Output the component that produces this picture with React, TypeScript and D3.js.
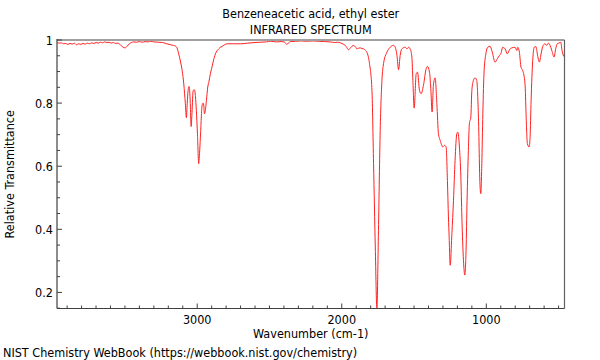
import React from "react";
import * as d3 from "d3";

const titleLines = ["Benzeneacetic acid, ethyl ester", "INFRARED SPECTRUM"];
const xLabel = "Wavenumber (cm-1)";
const yLabel = "Relative Transmittance";
const footer = "NIST Chemistry WebBook (https://webbook.nist.gov/chemistry)";

const xDomain = [3970, 459];
const yDomain = [0.149, 1.0];
const xMajorTicks = [3000, 2000, 1000];
const yMajorTicks = [0.2, 0.4, 0.6, 0.8, 1];

const wavenumbers = [
  3968, 3955, 3940, 3925, 3910, 3895, 3880, 3865, 3850, 3835, 3820, 3805, 3790, 3775, 3760, 3745,
  3730, 3715, 3700, 3685, 3670, 3655, 3640, 3625, 3610, 3595, 3580, 3565, 3550, 3530, 3515, 3500,
  3485, 3470, 3455, 3440, 3420, 3400, 3380, 3360, 3340, 3323, 3300, 3270, 3240, 3210, 3185, 3165,
  3151, 3140, 3128, 3115, 3104, 3093, 3082, 3075, 3069, 3063, 3056, 3051, 3047, 3042, 3036, 3028,
  3019, 3012, 3006, 2998, 2990, 2984, 2978, 2966, 2959, 2954, 2950, 2943, 2936, 2927, 2918, 2909,
  2900, 2890, 2874, 2851, 2820, 2793, 2750, 2701, 2650, 2600, 2563, 2520, 2494, 2450, 2420, 2395,
  2380, 2370, 2355, 2320, 2280, 2245, 2200, 2160, 2120, 2080, 2050, 2030, 2010, 1990, 1976, 1965,
  1953, 1940, 1918, 1905, 1895, 1884, 1872, 1860, 1849, 1836, 1826, 1808, 1791, 1780, 1768, 1757,
  1746, 1734, 1722, 1711, 1688, 1665, 1642, 1630, 1618, 1607, 1596, 1584, 1561, 1549, 1538, 1527,
  1515, 1508, 1499, 1485, 1476, 1462, 1451, 1435, 1416, 1407, 1393, 1384, 1375, 1366, 1354, 1342,
  1331, 1319, 1301, 1290, 1278, 1269, 1262, 1257, 1250, 1238, 1227, 1216, 1204, 1197, 1186, 1176,
  1169, 1158, 1149, 1140, 1133, 1124, 1117, 1107, 1100, 1089, 1077, 1066, 1055, 1043, 1038, 1031,
  1024, 1015, 1003, 990, 974, 962, 939, 923, 909, 900, 886, 870, 854, 840, 824, 801,
  789, 782, 771, 760, 748, 732, 725, 716, 704, 697, 690, 679, 668, 656, 647, 633,
  621, 610, 594, 582, 571, 559, 547, 531, 520, 509, 495, 485, 476, 462, 459,
];

const transmittance = [
  0.992, 0.990, 0.991, 0.988, 0.989, 0.986, 0.989, 0.987, 0.990, 0.985, 0.988, 0.986, 0.989, 0.987, 0.990, 0.988,
  0.991, 0.989, 0.992, 0.990, 0.993, 0.991, 0.994, 0.992, 0.993, 0.990, 0.992, 0.989, 0.990, 0.984, 0.978, 0.975,
  0.980, 0.988, 0.992, 0.994, 0.993, 0.995, 0.993, 0.995, 0.994, 0.996, 0.994, 0.993, 0.992, 0.988, 0.985, 0.983,
  0.981, 0.975, 0.956, 0.930, 0.903, 0.861, 0.798, 0.754, 0.800, 0.840, 0.853, 0.830, 0.787, 0.726, 0.770, 0.840,
  0.842, 0.820, 0.777, 0.700, 0.608, 0.640, 0.692, 0.793, 0.800, 0.790, 0.766, 0.780, 0.809, 0.851, 0.870, 0.893,
  0.910, 0.930, 0.956, 0.972, 0.982, 0.988, 0.988, 0.988, 0.990, 0.992, 0.993, 0.994, 0.996, 0.994, 0.995, 0.993,
  0.986, 0.990, 0.995, 0.996, 0.997, 0.996, 0.997, 0.996, 0.995, 0.994, 0.992, 0.993, 0.991, 0.987, 0.983, 0.976,
  0.969, 0.975, 0.983, 0.978, 0.972, 0.974, 0.975, 0.973, 0.972, 0.967, 0.961, 0.925, 0.840, 0.609, 0.344, 0.150,
  0.397, 0.714, 0.872, 0.925, 0.961, 0.977, 0.983, 0.977, 0.951, 0.906, 0.951, 0.972, 0.977, 0.972, 0.977, 0.972,
  0.946, 0.872, 0.784, 0.893, 0.898, 0.840, 0.830, 0.856, 0.909, 0.916, 0.898, 0.846, 0.772, 0.856, 0.880, 0.798,
  0.703, 0.682, 0.661, 0.666, 0.661, 0.555, 0.439, 0.376, 0.286, 0.387, 0.492, 0.619, 0.703, 0.708, 0.661, 0.566,
  0.439, 0.302, 0.255, 0.334, 0.492, 0.650, 0.735, 0.756, 0.840, 0.872, 0.880, 0.872, 0.766, 0.534, 0.513, 0.608,
  0.766, 0.903, 0.956, 0.977, 0.980, 0.967, 0.930, 0.941, 0.951, 0.956, 0.977, 0.972, 0.956, 0.969, 0.975, 0.977,
  0.967, 0.977, 0.961, 0.914, 0.903, 0.861, 0.766, 0.672, 0.661, 0.692, 0.809, 0.935, 0.977, 0.979, 0.956, 0.930,
  0.956, 0.979, 0.988, 0.983, 0.990, 0.983, 0.967, 0.946, 0.972, 0.988, 0.991, 0.993, 0.967, 0.948, 0.956,
];

const W = 600;
const H = 360;
const left = 57;
const right = 564.5;
const top = 40;
const bottom = 308.5;
const FONT = "'DejaVu Sans Condensed', 'DejaVu Sans', sans-serif";
const FS = 12.5;

export default function App() {
  const x = d3.scaleLinear().domain(xDomain).range([left, right]);
  const y = d3.scaleLinear().domain(yDomain).range([bottom, top]);

  const data = wavenumbers.map((w, i) => [w, transmittance[i]] as [number, number]);
  const line = d3
    .line<[number, number]>()
    .x((d) => x(d[0]))
    .y((d) => y(d[1]))
    .curve(d3.curveMonotoneX);

  const xMinor = d3.range(500, 4000, 100).filter((v) => !xMajorTicks.includes(v) && v <= xDomain[0] && v >= xDomain[1]);
  const yMinor = d3.range(0.15, 1.0001, 0.05).map((v) => +v.toFixed(2)).filter((v) => !yMajorTicks.some((m) => Math.abs(m - v) < 1e-6) && v >= yDomain[0]);

  return (
    <svg width={W} height={H} style={{ position: "absolute", left: 0, top: 0, background: "#fff" }} fontFamily={FONT}>
      <rect x={0} y={0} width={W} height={H} fill="#fff" />
      <text x={(left + right) / 2} y={18} textAnchor="middle" fontSize={FS} fill="#000">{titleLines[0]}</text>
      <text x={(left + right) / 2} y={34} textAnchor="middle" fontSize={FS} fill="#000">{titleLines[1]}</text>

      <defs>
        <clipPath id="plotclip">
          <rect x={left} y={top} width={right - left} height={bottom - top + 1} />
        </clipPath>
      </defs>
      <path d={line(data) || ""} fill="none" stroke="#ff2020" strokeWidth={1} clipPath="url(#plotclip)" />

      {/* frame */}
      <line x1={left} x2={right} y1={top} y2={top} stroke="#a0a0a0" strokeWidth={2} />
      <line x1={right} x2={right} y1={top} y2={bottom} stroke="#606060" strokeWidth={1.2} />
      <line x1={left} x2={left} y1={top - 1} y2={bottom} stroke="#404040" strokeWidth={1.2} />
      <line x1={left} x2={right} y1={bottom} y2={bottom} stroke="#404040" strokeWidth={1.2} />

      {xMajorTicks.map((t) => (
        <g key={"xm" + t}>
          <line x1={x(t)} x2={x(t)} y1={bottom} y2={bottom - 5} stroke="#404040" />
          <text x={x(t)} y={323.5} textAnchor="middle" fontSize={FS} fill="#000">{t}</text>
        </g>
      ))}
      {xMinor.map((t) => (
        <line key={"xn" + t} x1={x(t)} x2={x(t)} y1={bottom} y2={bottom - 3} stroke="#404040" />
      ))}
      {yMajorTicks.map((t) => (
        <g key={"ym" + t}>
          <line x1={left} x2={left + 5} y1={y(t)} y2={y(t)} stroke="#404040" />
          <text x={53} y={y(t) + 4.5} textAnchor="end" fontSize={FS} fill="#000">{String(t)}</text>
        </g>
      ))}
      {yMinor.map((t) => (
        <line key={"yn" + t} x1={left} x2={left + 3} y1={y(t)} y2={y(t)} stroke="#404040" />
      ))}

      <text x={(left + right) / 2} y={338} textAnchor="middle" fontSize={FS} fill="#000">{xLabel}</text>
      <text transform={`translate(14,${(top + bottom) / 2}) rotate(-90)`} textAnchor="middle" fontSize={FS} fill="#000">{yLabel}</text>
      <text x={3} y={357} fontSize={FS} fill="#000">{footer}</text>
    </svg>
  );
}
